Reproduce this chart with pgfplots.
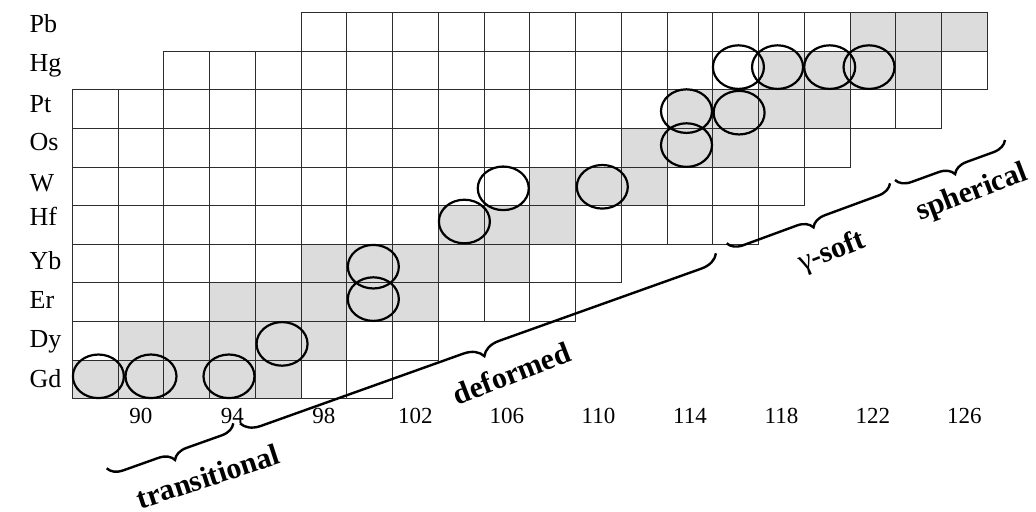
\documentclass[border=0pt]{standalone}
\usepackage{fontspec}
\setmainfont{Liberation Serif}
\usepackage{pgfplots}
\pgfplotsset{compat=1.18}
\usetikzlibrary{decorations.pathreplacing}
\definecolor{cellgray}{RGB}{220,220,220}
\definecolor{gridcol}{RGB}{45,45,45}
\pgfdeclareplotmark{cell}{\pgfpathrectangle{\pgfqpoint{-22.875bp}{-19.3bp}}{\pgfqpoint{45.75bp}{38.6bp}}\pgfusepathqfillstroke}
\pgfdeclareplotmark{ell}{\pgfpathellipse{\pgfpointorigin}{\pgfqpoint{25.5bp}{0bp}}{\pgfqpoint{0bp}{21.8bp}}\pgfusepathqstroke}
\begin{document}
\begin{tikzpicture}
\begin{axis}[at={(72.3bp,113.3bp)}, anchor=south west,
  x=22.875bp, y=38.6bp, xmin=87, xmax=127, ymin=0.5, ymax=10.5,
  clip=false, axis line style={draw=none}, tick style={draw=none}, major tick length=0pt,
  xtick={90,94,98,102,106,110,114,118,122,126},
  xticklabels={90,94,98,102,106,110,114,118,122,126},
  ytick={1.01,2.05,3.06,4.07,5.21,6.10,7.14,8.14,9.20,10.21},
  yticklabels={Gd,Dy,Er,Yb,Hf,W,Os,Pt,Hg,Pb},
  xticklabel style={font=\fontsize{23bp}{23bp}\selectfont, anchor=north, inner sep=0pt, yshift=-9.6bp},
  yticklabel style={font=\fontsize{26bp}{26bp}\selectfont, anchor=west, inner sep=0pt, text depth=0pt, text height=17bp, xshift=-42.8bp}]
% all cells (white)
\addplot[only marks, mark=cell, mark options={fill=white, draw=gridcol, line width=1.1bp}] coordinates {
(88,1)(90,1)(92,1)(94,1)(96,1)(98,1)(100,1)
(88,2)(90,2)(92,2)(94,2)(96,2)(98,2)(100,2)(102,2)
(88,3)(90,3)(92,3)(94,3)(96,3)(98,3)(100,3)(102,3)(104,3)(106,3)(108,3)
(88,4)(90,4)(92,4)(94,4)(96,4)(98,4)(100,4)(102,4)(104,4)(106,4)(108,4)(110,4)
(88,5)(90,5)(92,5)(94,5)(96,5)(98,5)(100,5)(102,5)(104,5)(106,5)(108,5)(110,5)(112,5)(114,5)(116,5)
(88,6)(90,6)(92,6)(94,6)(96,6)(98,6)(100,6)(102,6)(104,6)(106,6)(108,6)(110,6)(112,6)(114,6)(116,6)(118,6)
(88,7)(90,7)(92,7)(94,7)(96,7)(98,7)(100,7)(102,7)(104,7)(106,7)(108,7)(110,7)(112,7)(114,7)(116,7)(118,7)(120,7)
(88,8)(90,8)(92,8)(94,8)(96,8)(98,8)(100,8)(102,8)(104,8)(106,8)(108,8)(110,8)(112,8)(114,8)(116,8)(118,8)(120,8)(122,8)(124,8)
(92,9)(94,9)(96,9)(98,9)(100,9)(102,9)(104,9)(106,9)(108,9)(110,9)(112,9)(114,9)(116,9)(118,9)(120,9)(122,9)(124,9)(126,9)
(98,10)(100,10)(102,10)(104,10)(106,10)(108,10)(110,10)(112,10)(114,10)(116,10)(118,10)(120,10)(122,10)(124,10)(126,10)
};
% shaded cells
\addplot[only marks, mark=cell, mark options={fill=cellgray, draw=gridcol, line width=1.1bp}] coordinates {
(88,1)(90,1)(92,1)(94,1)(96,1)
(90,2)(92,2)(94,2)(96,2)(98,2)
(94,3)(96,3)(98,3)(100,3)(102,3)
(98,4)(100,4)(102,4)(104,4)(106,4)
(104,5)(106,5)(108,5)
(108,6)(110,6)(112,6)
(112,7)(114,7)(116,7)
(114,8)(116,8)(118,8)(120,8)
(118,9)(120,9)(122,9)(124,9)
(122,10)(124,10)(126,10)
};
% ellipses
\addplot[only marks, mark=ell, mark options={draw=black, line width=2.2bp}] coordinates {
(88.14,1.08)(90.44,1.08)(93.85,1.08)(96.17,1.92)(100.16,3.08)(100.16,3.92)
(104.14,5.09)(105.84,5.95)(110.17,5.99)(113.85,7.07)(113.85,7.95)(116.15,7.91)
(116.12,9.09)(117.83,9.09)(120.11,9.09)(121.83,9.09)
};
\end{axis}
\begin{scope}[x=1bp,y=1bp]
\draw[line width=2.4bp, decorate, decoration={brace, mirror, amplitude=15bp}] (106.7,43.7) -- (233.3,88.7);
\draw[line width=2.4bp, decorate, decoration={brace, mirror, amplitude=19bp}] (240,88.7) -- (716,258.7);
\draw[line width=2.4bp, decorate, decoration={brace, mirror, amplitude=15bp}] (726.7,268.7) -- (890,328.7);
\draw[line width=2.4bp, decorate, decoration={brace, mirror, amplitude=15bp}] (895,332) -- (1005,372);
\node[rotate=18, inner sep=0pt, font=\fontsize{30bp}{30bp}\selectfont\bfseries] at (208,35.5) {transitional};
\node[rotate=21, inner sep=0pt, font=\fontsize{30bp}{30bp}\selectfont\bfseries] at (511.7,138.7) {deformed};
\node[rotate=21, inner sep=0pt, font=\fontsize{30bp}{30bp}\selectfont] at (832,259.5) {γ\textbf{-soft}};
\node[rotate=21, inner sep=0pt, font=\fontsize{30bp}{30bp}\selectfont\bfseries] at (972,318.7) {spherical};
\end{scope}
\pgfresetboundingbox
\useasboundingbox (0,0) rectangle (1036bp,512bp);
\end{tikzpicture}
\end{document}
